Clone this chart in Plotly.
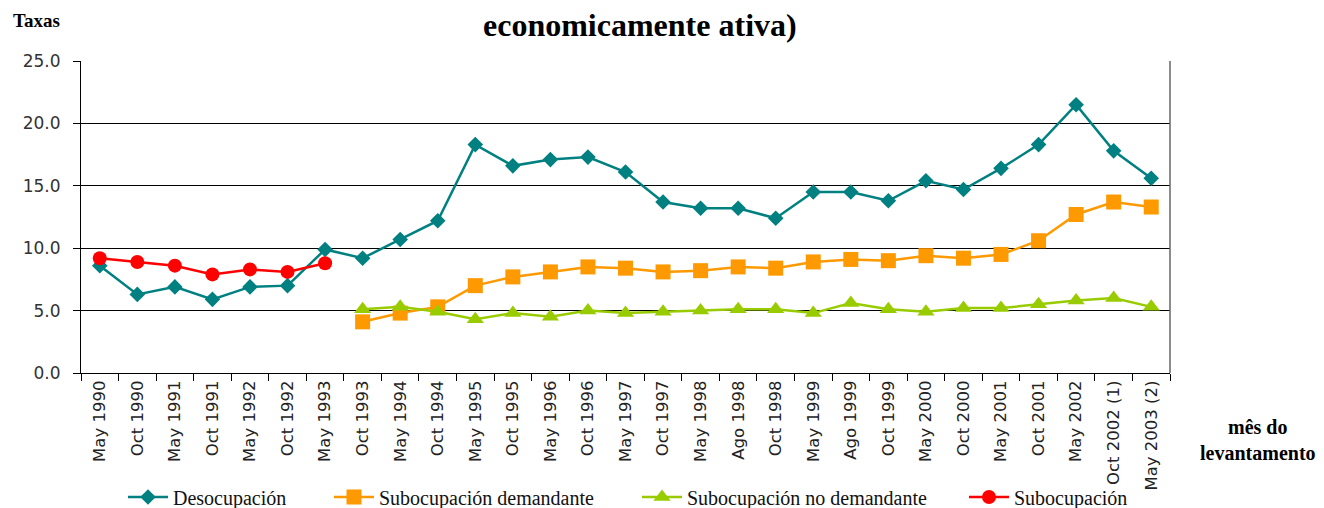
import plotly.graph_objects as go

categories = ["May 1990", "Oct 1990", "May 1991", "Oct 1991", "May 1992", "Oct 1992",
              "May 1993", "Oct 1993", "May 1994", "Oct 1994", "May 1995", "Oct 1995",
              "May 1996", "Oct 1996", "May 1997", "Oct 1997", "May 1998", "Ago 1998",
              "Oct 1998", "May 1999", "Ago 1999", "Oct 1999", "May 2000", "Oct 2000",
              "May 2001", "Oct 2001", "May 2002", "Oct 2002 (1)", "May 2003 (2)"]

desocupacion = [8.6, 6.3, 6.9, 5.9, 6.9, 7.0, 9.9, 9.2, 10.7, 12.2, 18.3, 16.6,
                17.1, 17.3, 16.1, 13.7, 13.2, 13.2, 12.4, 14.5, 14.5, 13.8, 15.4, 14.7,
                16.4, 18.3, 21.5, 17.8, 15.6]

sub_demandante = [None, None, None, None, None, None, None, 4.1, 4.8, 5.3, 7.0, 7.7,
                  8.1, 8.5, 8.4, 8.1, 8.2, 8.5, 8.4, 8.9, 9.1, 9.0, 9.4, 9.2,
                  9.5, 10.6, 12.7, 13.7, 13.3]

sub_no_demandante = [None, None, None, None, None, None, None, 5.1, 5.3, 4.9, 4.3, 4.8,
                     4.5, 5.0, 4.8, 4.9, 5.0, 5.1, 5.1, 4.8, 5.6, 5.1, 4.9, 5.2,
                     5.2, 5.5, 5.8, 6.0, 5.3]

subocupacion = [9.2, 8.9, 8.6, 7.9, 8.3, 8.1, 8.8] + [None] * 22

series_names = ["Desocupación", "Subocupación demandante",
                "Subocupación no demandante", "Subocupación"]
series_values = [desocupacion, sub_demandante, sub_no_demandante, subocupacion]
series_colors = ["#008080", "#FF9900", "#99CC00", "#FF0000"]
series_symbols = ["diamond", "square", "triangle-up", "circle"]
series_sizes = [12, 15, 15, 14]

y_ticks = [0, 5, 10, 15, 20, 25]

# The page body has an 8px default margin; size the figure to fit the window.
OFF = 8
W, H = 1324 - OFF, 508 - OFF
L, R, T, B = 81 - OFF, 154, 61 - OFF, 135
plot_w = W - L - R
plot_h = H - T - B

def px_to_paper(px, py):
    # px, py in page (screenshot) coordinates
    return (px - OFF - L) / plot_w, (H - B - (py - OFF)) / plot_h

def px_to_container(px, py):
    return (px - OFF) / W, 1 - (py - OFF) / H

legend_text_x = [174, 380, 688, 1015]
legend_y_page = 497

fig = go.Figure()
legend_layouts = {}
for i, (nm, vals, col, sym, sz) in enumerate(zip(series_names, series_values, series_colors,
                                                 series_symbols, series_sizes)):
    lname = "legend" if i == 0 else f"legend{i + 1}"
    fig.add_trace(go.Scatter(x=categories, y=vals, name=nm, mode="lines+markers",
                             line=dict(color=col, width=2.5),
                             marker=dict(symbol=sym, size=sz, color=col),
                             legend=lname))
    lx, ly = px_to_container(legend_text_x[i] - 51, legend_y_page)
    legend_layouts[lname] = dict(orientation="h", x=lx, xanchor="left", y=ly, yanchor="middle",
                                 xref="container", yref="container",
                                 font=dict(family="Liberation Serif", size=20, color="#111111"),
                                 bgcolor="rgba(0,0,0,0)", itemwidth=40)

fig.update_layout(
    width=W, height=H,
    margin=dict(l=L, r=R, t=T, b=B, autoexpand=False),
    paper_bgcolor="white", plot_bgcolor="white",
    font=dict(family="DejaVu Sans", color="#222222"),
    showlegend=True,
    xaxis=dict(type="category", tickangle=-90, tickson="boundaries", ticks="outside",
               ticklen=7, tickcolor="black", showline=True, linecolor="black", linewidth=1,
               showgrid=False, tickfont=dict(family="DejaVu Sans", size=16.5, color="#222222"),
               range=[-0.5, len(categories) - 0.5]),
    yaxis=dict(range=[0, 25], tickvals=y_ticks, tickformat=".1f", ticks="outside", ticklen=7,
               tickcolor="black", showline=True, linecolor="black", linewidth=1,
               showgrid=True, gridcolor="black", gridwidth=1, zeroline=False,
               ticklabelstandoff=9,
               tickfont=dict(family="DejaVu Sans", size=17, color="#333333")),
    shapes=[dict(type="line", xref="paper", yref="paper", x0=1, x1=1, y0=0, y1=1,
                 line=dict(color="#666666", width=1.5))],
)
fig.update_layout(**legend_layouts)

ann = [
    ("<b>economicamente ativa)</b>", 640, 25, 32),
    ("<b>Taxas</b>", 36, 20, 19),
    ("<b>mês do<br>levantamento</b>", 1258, 440, 20),
]
for text, px, py, size in ann:
    ax, ay = px_to_paper(px, py)
    fig.add_annotation(text=text, x=ax, y=ay, xref="paper", yref="paper", showarrow=False,
                       xanchor="center", yanchor="middle",
                       font=dict(family="Liberation Serif", size=size, color="black"))

fig.write_html("out.html")
